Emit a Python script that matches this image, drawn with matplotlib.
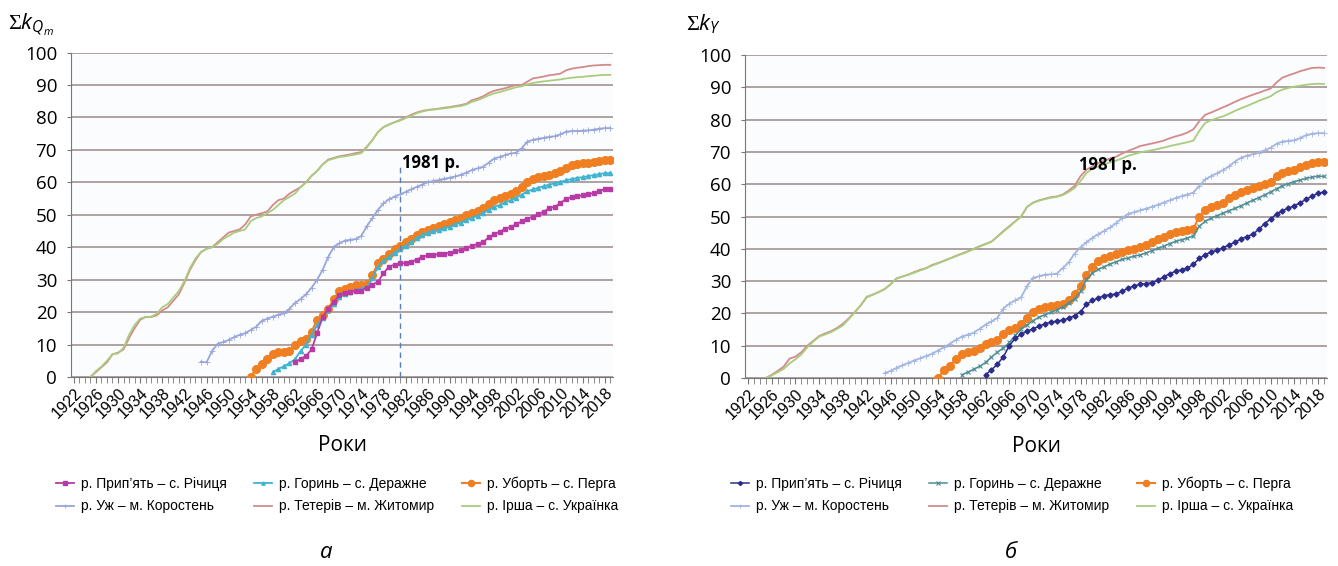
import numpy as np
import matplotlib
matplotlib.use("Agg")
import matplotlib.pyplot as plt

plt.rcParams['font.family'] = ['Open Sans', 'DejaVu Sans']
plt.rcParams['mathtext.fontset'] = 'custom'
plt.rcParams['mathtext.rm'] = 'Liberation Serif'
plt.rcParams['mathtext.it'] = 'Open Sans:italic'

# ---------------- data ----------------
# panel a: sum k_Qm ; each list starts at its start year, one value per year up to 2019
a_teteriv_start = 1925
a_teteriv = [0, 1.5, 3, 4.5, 7,
             7.5, 8.5, 12, 15, 17.6, 18.5, 18.5, 19, 20.5, 21.5,
             23.5, 25.5, 29, 33, 36, 38.5, 39.5, 40, 41.5, 43,
             44.5, 45, 45.5, 47, 49.5, 50, 50.5, 51, 53, 54.5,
             55, 56.5, 57.5, 58.5, 60, 62, 63.5, 65.5, 67, 67.5,
             68, 68.3, 68.6, 69, 69.3, 71, 73, 75.5, 77, 77.8,
             78.5, 79.2, 80, 80.8, 81.5, 82, 82.3, 82.5, 82.7, 83,
             83.2, 83.5, 83.8, 84.2, 85.3, 85.8, 86.5, 87.5, 88.2, 88.6,
             89, 89.5, 90, 90, 91, 92, 92.3, 92.6, 93, 93.2,
             93.5, 94.5, 95, 95.3, 95.5, 95.8, 96, 96.1, 96.2, 96.2]
a_irsha_start = 1925
a_irsha = [0, 1.8, 3.2, 5, 7,
           7.3, 9, 13, 16, 18, 18.5, 18.6, 19.5, 21.5, 22.5,
           24.5, 26.5, 29.5, 33.5, 36.5, 38.5, 39.5, 40, 41, 42.5,
           43.5, 44.5, 45, 45.5, 48, 49, 49.5, 50.5, 51.5, 53,
           54.5, 55.5, 56.5, 58.5, 60, 62, 63.5, 65.5, 66.8, 67.3,
           67.8, 68, 68.3, 68.6, 69, 70.8, 73, 75.5, 77, 77.8,
           78.5, 79, 79.8, 80.5, 81.3, 81.8, 82.2, 82.4, 82.6, 82.8,
           83, 83.3, 83.5, 84, 84.8, 85.3, 86, 86.8, 87.4, 87.8,
           88.3, 88.8, 89.3, 89.6, 90.2, 90.6, 90.9, 91.1, 91.3, 91.5,
           91.7, 92, 92.2, 92.4, 92.5, 92.7, 92.8, 93, 93.1, 93.1]
a_uzh_start = 1945
a_uzh = [4.7, 4.5, 8, 10.2, 10.8,
         11.4, 12.3, 13, 13.5, 14.5, 15.5, 17.3, 18, 18.6, 19.2,
         19.6, 21, 22.8, 24, 25.5, 27.5, 30, 33, 37, 40,
         41.2, 42, 42.3, 42.5, 43.5, 46.5, 49, 51.5, 53.5, 54.8,
         55.6, 56.3, 57, 57.8, 58.6, 59.3, 60, 60.4, 60.7, 61.1,
         61.4, 61.8, 62.3, 63, 63.8, 64.3, 64.8, 66, 67.3, 67.8,
         68.4, 68.9, 69.1, 70.5, 72.5, 73.1, 73.4, 73.7, 74, 74.2,
         74.8, 75.6, 75.8, 75.8, 75.9, 76, 76.2, 76.5, 76.7, 76.7]
a_uborth_start = 1954
a_uborth = [0, 2.6, 4, 5.5, 7, 7.6,
            7.8, 8, 10, 11.2, 11.6, 14, 17.6, 19, 21, 24,
            26.5, 27.2, 27.8, 28.2, 28.4, 28.6, 31.5, 35, 36.5, 38,
            39.5, 40.5, 41.5, 42.5, 43.8, 44.8, 45.4, 46, 46.4, 47,
            47.7, 48.4, 49, 49.8, 50.5, 51.2, 52, 53.2, 54.5, 55.2,
            55.8, 56.5, 57.2, 58.5, 60, 61, 61.5, 62, 62.4, 63,
            63.6, 64.5, 65.2, 65.5, 65.8, 66, 66.2, 66.6, 66.9, 66.9]
a_horyn_start = 1958
a_horyn = [1.5, 2.5,
           3.3, 4.2, 5.5, 8, 10, 13, 16, 18.2, 20.5, 22.5,
           24.5, 25.5, 26.3, 26.8, 27.2, 27.8, 30.5, 34, 35.8, 37,
           38.3, 39.5, 40.5, 41.5, 42.8, 43.8, 44.5, 45, 45.4, 45.8,
           46.3, 47, 47.6, 48.3, 49, 49.7, 50.5, 51.5, 52.4, 53,
           53.8, 54.5, 55.2, 56.2, 57.2, 57.8, 58.3, 58.8, 59.3, 59.7,
           60.1, 60.6, 61, 61.3, 61.6, 61.9, 62.2, 62.5, 62.8, 62.8]
a_prypiat_start = 1962
a_prypiat = [4.7, 5.5, 6.5, 8.5, 13.5, 18.5, 21, 23,
             25.3, 26, 26.3, 26.4, 26.6, 27.5, 28.5, 29.3, 32, 34,
             34.6, 35, 35.2, 35.5, 36.2, 37, 37.5, 37.7, 37.8, 38,
             38.3, 38.7, 39.2, 39.8, 40.4, 41, 41.5, 43, 44, 44.8,
             45.6, 46.3, 47, 48, 48.8, 49.4, 50.2, 51, 52, 52.5,
             53.5, 55, 55.4, 55.7, 56, 56.3, 56.7, 57.3, 57.9, 57.9]

# panel b: sum k_Y
b_teteriv_start = 1925
b_teteriv = [0, 1, 2.2, 3.5, 6,
             6.6, 8, 10, 11.5, 13, 13.8, 14.5, 15.5, 16.8, 18.5,
             20.5, 22.5, 25, 25.8, 26.6, 27.5, 29, 30.8, 31.4, 32,
             32.8, 33.5, 34, 35, 35.6, 36.3, 37, 37.8, 38.5, 39.2,
             40, 40.8, 41.5, 42.2, 43.8, 45.5, 47, 48.5, 50, 53,
             54.3, 55, 55.5, 56, 56.2, 56.8, 58, 59.5, 62.5, 64.5,
             65.5, 66.5, 67.3, 68, 68.5, 69.5, 70.3, 71, 71.8, 72.2,
             72.6, 73, 73.5, 74.2, 74.8, 75.3, 76, 77, 79.5, 81.5,
             82.2, 83, 83.8, 84.6, 85.5, 86.3, 87, 87.7, 88.3, 89,
             89.6, 91.5, 93, 93.7, 94.3, 95, 95.5, 96, 96.1, 96]
b_irsha_start = 1925
b_irsha = [0, 0.8, 1.8, 2.8, 4.5,
           5.8, 7.3, 9.5, 11.3, 12.8, 13.5, 14.2, 15.2, 16.3, 18.3,
           20.3, 22.6, 25.2, 25.8, 26.6, 27.5, 29, 30.8, 31.4, 32,
           32.6, 33.3, 34, 34.8, 35.5, 36.2, 37, 37.7, 38.4, 39.1,
           39.9, 40.7, 41.4, 42.2, 43.7, 45.3, 46.8, 48.5, 50, 53,
           54.2, 54.9, 55.4, 55.8, 56.1, 56.6, 57.6, 58.8, 61, 63.5,
           64.8, 65.5, 66.2, 66.8, 67.3, 68, 68.8, 69.3, 69.8, 70.2,
           70.5, 70.9, 71.3, 71.8, 72.2, 72.6, 73, 73.5, 76.5, 79,
           79.8, 80.5, 81, 81.8, 82.7, 83.5, 84.2, 85, 85.8, 86.5,
           87.2, 88.5, 89.3, 89.8, 90.2, 90.5, 90.8, 91, 91.1, 91]
b_uzh_start = 1945
b_uzh = [1.5, 2.2, 3.1, 3.9, 4.7,
         5.4, 6.1, 6.8, 7.5, 8.5, 9.5, 10.6, 11.8, 12.8, 13.4,
         14, 15.2, 16.5, 17.5, 18.6, 21.5, 23, 24, 25, 28.5,
         31, 31.5, 32, 32.1, 32.3, 34, 35.8, 38.5, 40.5, 42,
         43.4, 44.5, 45.6, 46.6, 48, 49.5, 50.8, 51.3, 51.9, 52.4,
         53, 53.6, 54.3, 55, 55.7, 56.3, 56.8, 57.4, 59.5, 61.5,
         62.5, 63.4, 64.4, 65.5, 67, 68.2, 68.8, 69.3, 69.8, 70.5,
         71.3, 72.5, 73.2, 73.4, 73.6, 74.3, 75.2, 75.6, 75.8, 75.8]
b_uborth_start = 1954
b_uborth = [0, 2.4, 3.8, 5.8, 7.3, 7.9,
            8.5, 9.4, 10.6, 11.3, 11.9, 13.5, 14.8, 15.6, 16.8, 18.5,
            20.5, 21.5, 22, 22.2, 22.5, 22.9, 24.3, 26, 28.5, 32,
            34.5, 36.2, 37, 37.7, 38.4, 39, 39.5, 40, 40.6, 41.2,
            42, 43, 43.8, 44.6, 45.1, 45.4, 45.7, 46.2, 50, 52,
            52.8, 53.6, 54.3, 55.6, 56.6, 57.7, 58.3, 58.9, 59.4, 60,
            60.6, 62.5, 63.5, 64, 64.5, 65.2, 66, 66.6, 66.9, 66.8]
b_horyn_start = 1958
b_horyn = [1, 1.8,
           2.7, 3.6, 4.8, 6.5, 8, 9.3, 11, 13.2, 15.2, 16.5,
           17.8, 18.8, 19.6, 20.3, 21.1, 22, 23.2, 24.5, 26.8, 30.5,
           32.5, 33.6, 34.5, 35.3, 36, 36.7, 37.2, 37.7, 38.1, 38.7,
           39.4, 40.1, 40.8, 41.6, 42.3, 42.8, 43.3, 44, 47, 48.5,
           49.5, 50.3, 51, 51.8, 52.5, 53.3, 54.2, 55, 55.8, 56.7,
           57.6, 58.6, 59.5, 60.2, 60.8, 61.3, 61.8, 62.2, 62.5, 62.4]
b_prypiat_start = 1962
b_prypiat = [1, 2.5, 4.3, 6.5, 10, 12.3, 13.5, 14.5,
             15.2, 16, 16.8, 17.3, 17.6, 17.9, 18.5, 19.3, 20.5, 22.8,
             24, 24.8, 25.5, 25.8, 26, 26.8, 27.8, 28.5, 29, 29.2,
             29.5, 30.2, 31.3, 32.3, 33, 33.5, 34, 35.2, 37, 38.2,
             39, 39.6, 40.3, 41.2, 42, 43, 43.8, 44.5, 46, 47.8,
             49.2, 50.8, 51.8, 52.6, 53.3, 54.3, 55.3, 56.3, 57.2, 57.6]

first_year, last_year = 1922, 2019
tick_years = list(range(1922, 2019, 4))
mark_year = 1981

labels = ["р. Прип’ять – с. Річиця", "р. Горинь – с. Деражне", "р. Уборть – с. Перга",
          "р. Уж – м. Коростень", "р. Тетерів – м. Житомир", "р. Ірша – с. Українка"]


def yrs(start, vals):
    return np.arange(start, start + len(vals))


fig = plt.figure(figsize=(13.38, 5.66), dpi=100)
W, H = 1338, 566
axA = fig.add_axes([71 / W, 1 - 377 / H, (613 - 71) / W, (377 - 52.5) / H])
axB = fig.add_axes([745 / W, 1 - 378 / H, (1327 - 745) / W, (378 - 55) / H])

legend_font = {'family': ['Liberation Sans', 'DejaVu Sans'], 'size': 10}


def style_axis(ax):
    ax.set_facecolor('#fbfcfd')
    ax.set_xlim(first_year - 0.5, last_year + 0.5)
    ax.set_ylim(0, 100)
    ax.set_yticks(range(0, 101, 10))
    ax.tick_params(axis='y', labelsize=13.5, length=3, color='#777777', pad=7)
    ax.set_xticks(tick_years)
    ax.set_xticklabels([str(y) for y in tick_years], rotation=45, ha='right',
                       va='top', rotation_mode='anchor', fontsize=11.5,
                       family=['Liberation Sans', 'DejaVu Sans'])
    ax.set_xticks(range(first_year, last_year + 1), minor=True)
    ax.tick_params(axis='x', which='both', length=4, color='#777777', pad=2)
    ax.grid(axis='y', color='#a89a9a', lw=1.3)
    ax.set_axisbelow(True)
    for s in ['top', 'right']:
        ax.spines[s].set_visible(False)
    for s in ['left', 'bottom']:
        ax.spines[s].set_color('#777777')
    ax.set_xlabel('Роки', fontsize=15, labelpad=10)


# ---- panel a ----
ax = axA
ax.plot(yrs(a_teteriv_start, a_teteriv), a_teteriv, color='#d48a8a', lw=1.3, zorder=2)
ax.plot(yrs(a_irsha_start, a_irsha), a_irsha, color='#a9cd7e', lw=1.3, zorder=2)
ax.plot(yrs(a_uzh_start, a_uzh), a_uzh, color='#98a6dc', lw=1.3, marker='+', ms=4, mew=0.6, zorder=3)
ax.plot(yrs(a_uborth_start, a_uborth), a_uborth, color='#f07f22', lw=1.5, marker='o', ms=5.5, zorder=4)
ax.plot(yrs(a_horyn_start, a_horyn), a_horyn, color='#3fb3cf', lw=1.3, marker='^', ms=3, zorder=5)
ax.plot(yrs(a_prypiat_start, a_prypiat), a_prypiat, color='#b83aa6', lw=1.3, marker='s', ms=3.2, zorder=6)
ax.plot([mark_year, mark_year], [0, 65], color='#5a80bb', lw=1, ls=(0, (4, 3)), zorder=7)
ax.text(mark_year + 0.4, 66, '1981 р.', fontsize=12, fontweight='bold', va='center', ha='left')
style_axis(ax)
fig.text(8 / W, 1 - 24 / H, r'$\Sigma k_{Q_m}$', fontsize=16, va='center', ha='left')

# ---- panel b ----
ax = axB
ax.plot(yrs(b_teteriv_start, b_teteriv), b_teteriv, color='#d48a8a', lw=1.3, zorder=2)
ax.plot(yrs(b_irsha_start, b_irsha), b_irsha, color='#a9cd7e', lw=1.3, zorder=2)
ax.plot(yrs(b_uzh_start, b_uzh), b_uzh, color='#a3b5e2', lw=1.3, marker='+', ms=4, mew=0.6, zorder=3)
ax.plot(yrs(b_uborth_start, b_uborth), b_uborth, color='#f07f22', lw=1.5, marker='o', ms=5.5, zorder=4)
ax.plot(yrs(b_horyn_start, b_horyn), b_horyn, color='#4f8e95', lw=1.1, marker='x', ms=3.5, mew=0.8, zorder=5)
ax.plot(yrs(b_prypiat_start, b_prypiat), b_prypiat, color='#2c2c8c', lw=1.1, marker='D', ms=2.6, zorder=6)
ax.text(mark_year - 3.2, 66, '1981 р.', fontsize=12, fontweight='bold', va='center', ha='left')
style_axis(ax)
fig.text(686 / W, 1 - 24 / H, r'$\Sigma k_Y$', fontsize=16, va='center', ha='left')

# legends: ncol=3 fills by column, so reorder handles
order = [0, 3, 1, 4, 2, 5]
for ax, cx in [(axA, 337 / W), (axB, 1012 / W)]:
    lines = ax.get_lines()[:6]
    # lines drawn: teteriv, irsha, uzh, uborth, horyn, prypiat -> map to label order
    by_label = [lines[5], lines[4], lines[3], lines[2], lines[0], lines[1]]
    hs = [by_label[i] for i in order]
    ls_ = [labels[i] for i in order]
    fig.legend(hs, ls_, loc='center', bbox_to_anchor=(cx, 1 - 495 / H), ncol=3,
               frameon=False, prop=legend_font, handlelength=1.3, handletextpad=0.5,
               columnspacing=2.0, labelspacing=0.6, markerscale=0.8)

fig.text(326 / W, 1 - 553 / H, 'а', fontsize=16, style='italic', ha='center', va='center')
fig.text(1011 / W, 1 - 553 / H, 'б', fontsize=16, style='italic', ha='center', va='center')

fig.savefig('out.png', dpi=100)
